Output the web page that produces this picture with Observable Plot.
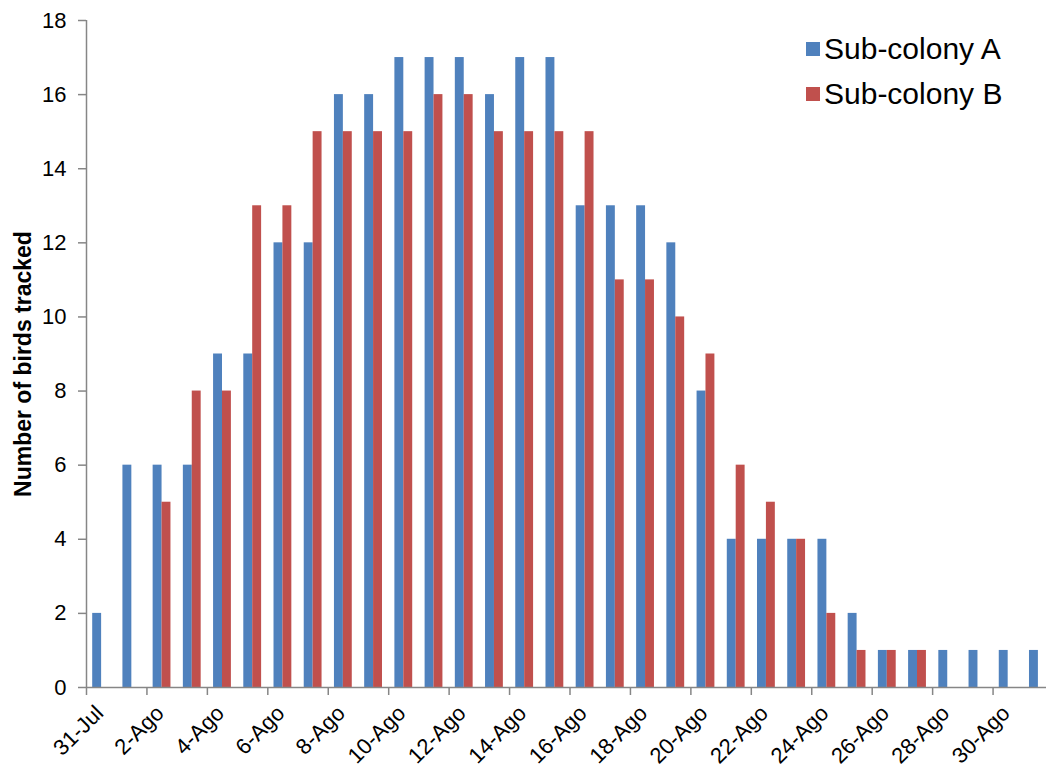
<!DOCTYPE html>
<html>
<head>
<meta charset="utf-8">
<script src="https://cdn.jsdelivr.net/npm/d3@7"></script>
<script src="https://cdn.jsdelivr.net/npm/@observablehq/plot@0.6"></script>
<style>
  html, body { margin: 0; padding: 0; background: white; }
  #wrap { position: relative; width: 1046px; height: 767px; font-family: "Liberation Sans", Arial, sans-serif; }
  #legend { position: absolute; left: 806px; top: 26px; font-size: 30px; color: #000; }
  .row { display: flex; align-items: center; height: 45px; }
  .sw { width: 14px; height: 14px; margin-right: 4px; }
</style>
</head>
<body>
<div id="wrap">
  <div id="legend"></div>
</div>
<script>
const dates = ["31-Jul","1-Ago","2-Ago","3-Ago","4-Ago","5-Ago","6-Ago","7-Ago","8-Ago","9-Ago",
  "10-Ago","11-Ago","12-Ago","13-Ago","14-Ago","15-Ago","16-Ago","17-Ago","18-Ago","19-Ago",
  "20-Ago","21-Ago","22-Ago","23-Ago","24-Ago","25-Ago","26-Ago","27-Ago","28-Ago","29-Ago",
  "30-Ago","31-Ago"];
const subColonyA = [2,6,6,6,9,9,12,12,16,16,17,17,17,16,17,17,13,13,13,12,8,4,4,4,4,2,1,1,1,1,1,1];
const subColonyB = [0,0,5,8,8,13,13,15,15,15,15,16,16,15,15,15,15,11,11,10,9,6,5,4,2,1,1,1,0,0,0,0];
const seriesNames = ["Sub-colony A", "Sub-colony B"];
const seriesColors = ["#4F81BD", "#C0504D"];
const yTicks = [0,2,4,6,8,10,12,14,16,18];
const xTickLabels = dates.filter((d, i) => i % 2 === 0);

const rowsA = dates.map((d, i) => ({date: d, value: subColonyA[i]}));
const rowsB = dates.map((d, i) => ({date: d, value: subColonyB[i]}));

const x0 = 86, x1 = 1053;
const bw = (x1 - x0) / dates.length;
const axisGray = "#868686";

const chart = Plot.plot({
  width: 1046,
  height: 767,
  marginLeft: 86,
  marginRight: 0,
  marginTop: 20,
  marginBottom: 80,
  style: {fontFamily: "'Liberation Sans', Arial, sans-serif", background: "white", overflow: "hidden"},
  x: {domain: dates, range: [x0, x1], padding: 0, round: false, axis: null},
  y: {domain: [0, 18], axis: null},
  marks: [
    Plot.barY(rowsA, {x: "date", y: "value", fill: seriesColors[0], insetLeft: 6.2, insetRight: 15.1}),
    Plot.barY(rowsB, {x: "date", y: "value", fill: seriesColors[1], insetLeft: 15.1, insetRight: 6.2}),
    Plot.ruleY([0], {stroke: axisGray, strokeWidth: 1.5}),
    Plot.ruleX([dates[0]], {x: d => d, dx: -bw / 2, y1: 0, y2: 18, stroke: axisGray, strokeWidth: 1.5}),
    Plot.ruleX(xTickLabels, {x: d => d, dx: -bw / 2, y1: 0, y2: 0, insetBottom: -8, stroke: axisGray, strokeWidth: 1.5}),
    Plot.axisY({ticks: yTicks, label: null, tickSize: 8, tickPadding: 12, fontSize: 22, stroke: axisGray, fill: "#000", strokeWidth: 1.5}),
    Plot.text(xTickLabels, {x: d => d, y: 0, text: d => d, rotate: -45, textAnchor: "end", lineAnchor: "bottom", dx: 3, dy: 27, fontSize: 22, fill: "#000"}),
    Plot.text(["Number of birds tracked"], {frameAnchor: "left", textAnchor: "middle", text: d => d, dx: -63, dy: 10, rotate: -90, fontSize: 23, fontWeight: "bold", fill: "#000"})
  ]
});

const wrap = document.getElementById("wrap");
wrap.insertBefore(chart, wrap.firstChild);

const legend = document.getElementById("legend");
seriesNames.forEach((name, i) => {
  const row = document.createElement("div");
  row.className = "row";
  const sw = document.createElement("div");
  sw.className = "sw";
  sw.style.background = seriesColors[i];
  const t = document.createElement("span");
  t.textContent = name;
  row.appendChild(sw);
  row.appendChild(t);
  legend.appendChild(row);
});
</script>
</body>
</html>
